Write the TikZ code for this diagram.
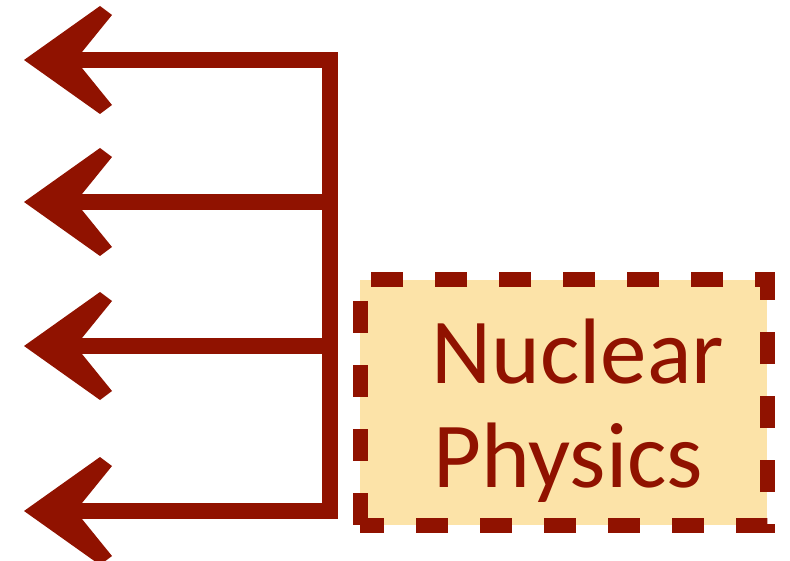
\documentclass[tikz,border=0pt]{standalone}
\usepackage{fontspec}
\setmainfont{Carlito}
\definecolor{dred}{RGB}{144,18,0}
\definecolor{boxfill}{RGB}{252,227,168}
\begin{document}
\begin{tikzpicture}[x=1pt,y=-1pt,
  conn/.style={draw=dred,line width=16pt,line join=miter},
  arrowhead/.pic={\fill[dred] (-2,0) -- (74,-54) -- (86,-45) -- (56,-8) -- (56,8) -- (86,45) -- (74,54) -- cycle;},
  nbox/.style={draw=dred,fill=boxfill,line width=15pt,dash pattern=on 32pt off 32pt,dash phase=8pt,minimum width=407pt,minimum height=245pt,inner sep=0pt},
  label/.style={text=dred,font=\fontsize{93}{110}\selectfont,inner sep=0pt,anchor=base west}]
\useasboundingbox (0,0) rectangle (790,561);
% arrow tips and junctions
\coordinate (t1) at (26,60);
\coordinate (t2) at (26,202);
\coordinate (t3) at (26,346);
\coordinate (t4) at (26,511);
\coordinate (j1) at (330,60);
\coordinate (j2) at (330,202);
\coordinate (j3) at (330,346);
\coordinate (j4) at (330,511);
% connectors
\draw[conn] ([xshift=40pt]t1) -- (j1) -- (j4) -- ([xshift=40pt]t4);
\draw[conn] (j2) -- ([xshift=40pt]t2);
\draw[conn] (j3) -- ([xshift=40pt]t3);
\pic at (t1) {arrowhead};
\pic at (t2) {arrowhead};
\pic at (t3) {arrowhead};
\pic at (t4) {arrowhead};
% box
\node[nbox] (np) at (563.5,402.5) {};
\node[label] (l1) at (431,383) {Nuclear};
\node[label] (l2) at (433,487) {Physics};
\end{tikzpicture}
\end{document}
